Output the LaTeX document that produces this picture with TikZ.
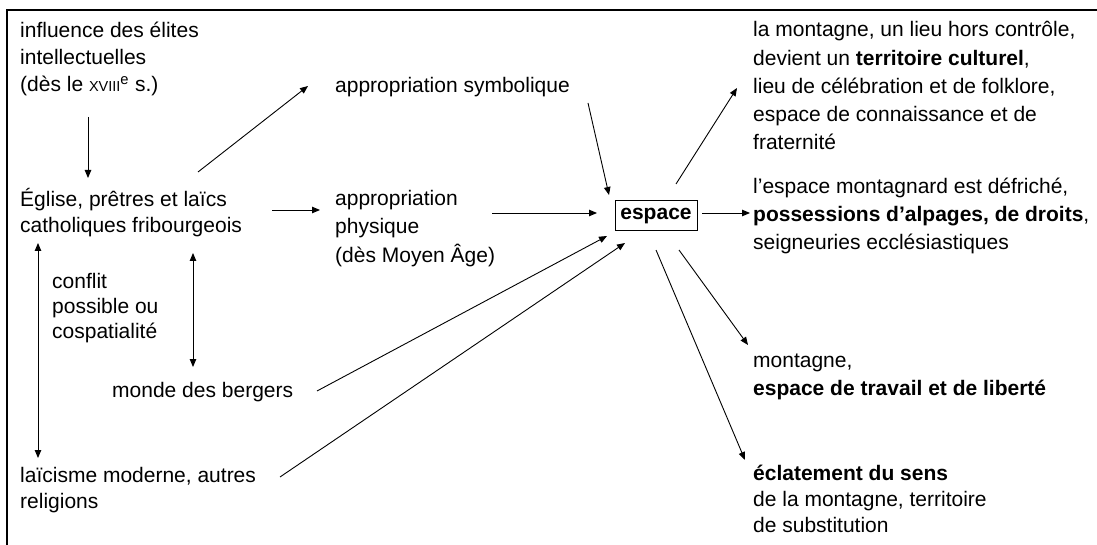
\documentclass[tikz,border=0pt]{standalone}
\usepackage{fontspec}
\setmainfont{Liberation Sans}
\usetikzlibrary{arrows.meta}

\tikzset{
  txt/.style={anchor=base west,align=left,inner sep=0pt,
    font=\fontsize{21pt}{27pt}\selectfont},
  arr/.style={-{Triangle[length=8pt,width=6.5pt]},line width=0.9pt},
  dblarr/.style={{Triangle[length=8pt,width=6.5pt]}-{Triangle[length=8pt,width=6.5pt]},line width=0.9pt}
}

\begin{document}
\begin{tikzpicture}[x=1pt,y=-1pt]
  \useasboundingbox (0,0) rectangle (1097,545);
  \draw[line width=1.3pt] (7,545) -- (7,10) -- (1097,10);

  % left column (nodes sit on the baseline of their last line)
  \node[txt] (elites) at (20,92) {influence des élites\\intellectuelles\\(dès le {\fontsize{14.5pt}{14pt}\selectfont XVIII}\textsuperscript{e} s.)};
  \node[txt,font=\fontsize{21pt}{26pt}\selectfont] (eglise) at (20,233) {Église, prêtres et laïcs\\catholiques fribourgeois};
  \node[txt,font=\fontsize{21pt}{25pt}\selectfont] (conflit) at (52,338) {conflit\\possible ou\\cospatialité};
  \node[txt] (bergers) at (112,397) {monde des bergers};
  \node[txt,font=\fontsize{21pt}{26pt}\selectfont] (laicisme) at (20,508) {laïcisme moderne, autres\\religions};

  % middle
  \node[txt] (symbolique) at (335,93) {appropriation symbolique};
  \node[txt,font=\fontsize{21pt}{28.5pt}\selectfont] (physique) at (335,262) {appropriation\\physique\\(dès Moyen Âge)};
  \node[draw,line width=1pt,inner sep=0pt,minimum width=82pt,minimum height=30pt,
    font=\fontsize{21pt}{27pt}\selectfont\bfseries] (espace) at (656,216) {espace};

  % right column
  \node[txt,font=\fontsize{21pt}{28.3pt}\selectfont] (territoire) at (753,150) {la montagne, un lieu hors contrôle,\\devient un \textbf{territoire culturel},\\lieu de célébration et de folklore,\\espace de connaissance et de\\fraternité};
  \node[txt,font=\fontsize{21pt}{28pt}\selectfont] (defriche) at (753,250) {l’espace montagnard est défriché,\\\textbf{possessions d’alpages, de droits},\\seigneuries ecclésiastiques};
  \node[txt,font=\fontsize{21pt}{28pt}\selectfont] (travail) at (753,395) {montagne,\\\textbf{espace de travail et de liberté}};
  \node[txt,font=\fontsize{21pt}{26pt}\selectfont] (eclatement) at (753,532) {\textbf{éclatement du sens}\\de la montagne, territoire\\de substitution};

  % connectors
  \draw[arr] ([shift={(68,25)}]elites.base west) -- ([shift={(68,-55)}]eglise.base west);
  \draw[arr] ([shift={(178,-61)}]eglise.base west) -- ([shift={(-27,-7)}]symbolique.base west);
  \draw[arr] ([shift={(252,-23)}]eglise.base west) -- ([shift={(-15,-52)}]physique.base west);
  \draw[dblarr] ([shift={(18,10)}]eglise.base west) -- ([shift={(18,-50)}]laicisme.base west);
  \draw[dblarr] ([shift={(173,20)}]eglise.base west) -- ([shift={(81,-30)}]bergers.base west);

  \draw[arr] ([shift={(253,10)}]symbolique.base west) -- ([shift={(-47,-21)}]espace.center);
  \draw[arr] ([shift={(157,-49)}]physique.base west) -- ([shift={(-59,-3)}]espace.center);
  \draw[arr] ([shift={(205,-6)}]bergers.base west) -- ([shift={(-49,20)}]espace.center);
  \draw[arr] ([shift={(260,-31)}]laicisme.base west) -- ([shift={(-31,27)}]espace.center);

  \draw[arr] ([shift={(20,-32)}]espace.center) -- ([shift={(-16,-62)}]territoire.base west);
  \draw[arr] ([shift={(46,-3)}]espace.center) -- ([shift={(-3,-37)}]defriche.base west);
  \draw[arr] ([shift={(23,34)}]espace.center) -- ([shift={(-5,-50)}]travail.base west);
  \draw[arr] ([shift={(0,34)}]espace.center) -- ([shift={(-8,-72)}]eclatement.base west);
\end{tikzpicture}
\end{document}
